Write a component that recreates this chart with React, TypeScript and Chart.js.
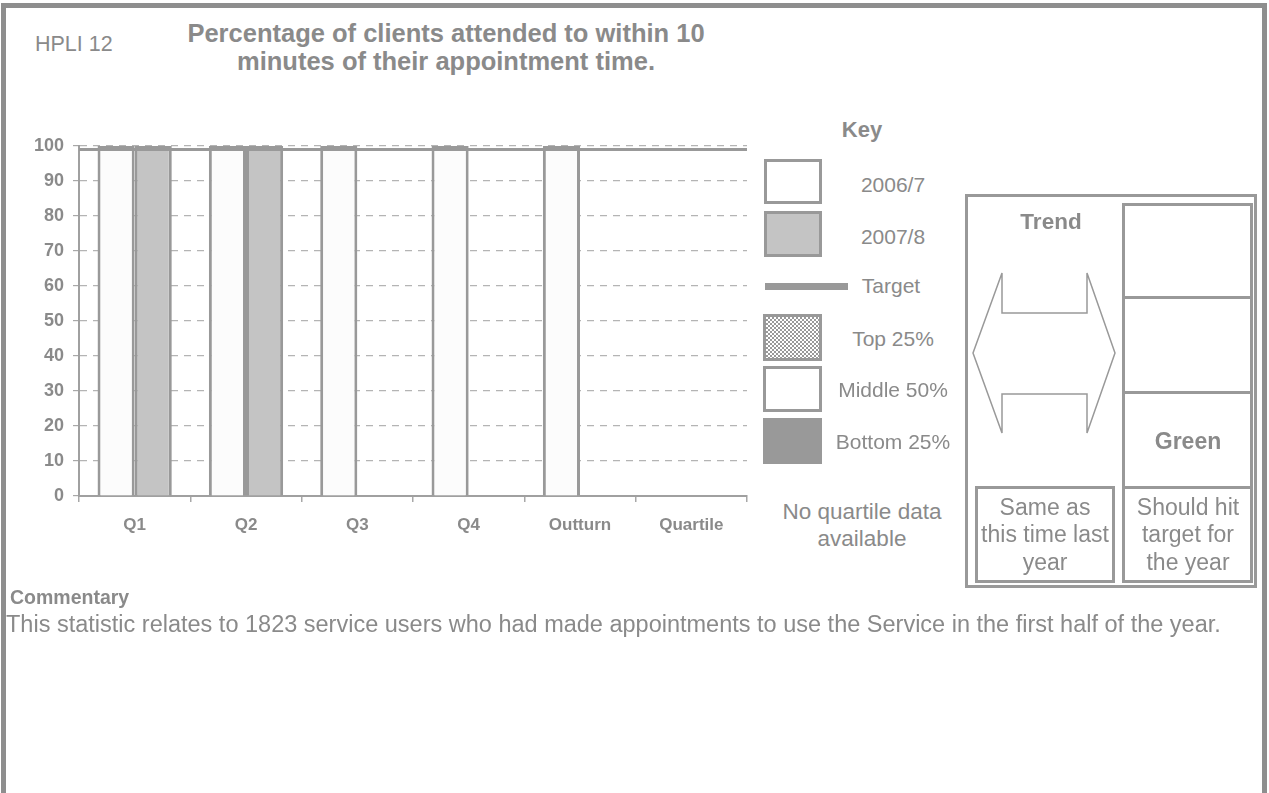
import React, { useEffect, useRef } from 'react';
import { Chart, registerables } from 'chart.js';

Chart.register(...registerables);

// ---- data ----
const categories = ['Q1', 'Q2', 'Q3', 'Q4', 'Outturn', 'Quartile'];
const values2006 = [100, 100, 100, 100, 100, null];
const values2007 = [100, 100, null, null, null, null];
const seriesNames = ['2006/7', '2007/8'];
const targetValue = 99;
const yMin = 0;
const yMax = 100;
const yStep = 10;

const titleLines = ['Percentage of clients attended to within 10', 'minutes of their appointment time.'];
const keyLabels = ['2006/7', '2007/8', 'Target', 'Top 25%', 'Middle 50%', 'Bottom 25%'];
const quartileNote = ['No quartile data', 'available'];
const trendNote = ['Same as', 'this time last', 'year'];
const targetNote = ['Should hit', 'target for', 'the year'];
const commentary = 'This statistic relates to 1823 service users who had made appointments to use the Service in the first half of the year.';

const FONT = "'Liberation Sans', Arial, sans-serif";
const TXT = '#8a8a8a';
const LINE = '#999999';

type TxtProps = { x: number; cy: number; size: number; bold?: boolean; align?: 'left' | 'center'; children: React.ReactNode };
function Txt({ x, cy, size, bold, align = 'left', children }: TxtProps) {
  return (
    <div
      style={{
        position: 'absolute',
        left: x,
        top: cy - size * 0.49,
        transform: align === 'center' ? 'translateX(-50%)' : undefined,
        fontSize: size,
        lineHeight: `${size}px`,
        fontWeight: bold ? 'bold' : 'normal',
        whiteSpace: 'nowrap',
        color: TXT,
        fontFamily: FONT,
      }}
    >
      {children}
    </div>
  );
}

function Box({ l, t, w, h, bg = 'transparent', border = 3, style = {} }: any) {
  return (
    <div
      style={{
        position: 'absolute',
        left: l,
        top: t,
        width: w,
        height: h,
        boxSizing: 'border-box',
        border: border ? `${border}px solid ${LINE}` : 'none',
        background: bg,
        ...style,
      }}
    />
  );
}

const targetPlugin = {
  id: 'targetLine',
  afterDatasetsDraw(chart: any) {
    const { ctx, chartArea, scales } = chart;
    const y = scales.y.getPixelForValue(targetValue);
    ctx.save();
    ctx.strokeStyle = LINE;
    ctx.lineWidth = 3;
    ctx.beginPath();
    ctx.moveTo(chartArea.left, y);
    ctx.lineTo(chartArea.right, y);
    ctx.stroke();
    ctx.restore();
  },
};

function BarChart() {
  const ref = useRef<HTMLCanvasElement>(null);
  useEffect(() => {
    if (!ref.current) return;
    const chart = new Chart(ref.current, {
      type: 'bar',
      data: {
        labels: categories,
        datasets: [
          {
            label: seriesNames[0],
            data: values2006,
            backgroundColor: '#fcfcfc',
            borderColor: LINE,
            borderWidth: 3,
            categoryPercentage: 0.667,
            barPercentage: 1,
          },
          {
            label: seriesNames[1],
            data: values2007,
            backgroundColor: '#c4c4c4',
            borderColor: LINE,
            borderWidth: 3,
            categoryPercentage: 0.667,
            barPercentage: 1,
          },
        ],
      },
      options: {
        animation: false,
        responsive: false,
        devicePixelRatio: 1,
        layout: { padding: { top: 26, right: 23, left: 0, bottom: 0 } },
        plugins: { legend: { display: false }, tooltip: { enabled: false } },
        scales: {
          x: {
            afterFit: (s: any) => {
              s.height = 64;
            },
            grid: {
              display: true,
              drawOnChartArea: false,
              drawTicks: true,
              tickLength: 6,
              offset: true,
              color: '#a8a8a8',
              lineWidth: 1.5,
            },
            border: { display: true, color: '#a0a0a0', width: 2 },
            ticks: {
              color: TXT,
              font: { family: FONT, size: 17, weight: 'bold' },
              padding: 13,
            },
          },
          y: {
            min: yMin,
            max: yMax,
            afterFit: (s: any) => {
              s.width = 79;
            },
            grid: {
              color: (c: any) => (c.tick && c.tick.value === 0 ? 'rgba(0,0,0,0)' : '#b4b4b4'),
              tickColor: '#a8a8a8',
              tickLength: 6,
              tickBorderDash: [],
              lineWidth: 1.2,
            },
            border: { display: true, color: '#a0a0a0', width: 2, dash: [7, 6] },
            ticks: {
              stepSize: yStep,
              color: TXT,
              font: { family: FONT, size: 18, weight: 'bold' },
              padding: 9,
            },
          },
        },
      },
      plugins: [targetPlugin],
    } as any);
    return () => chart.destroy();
  }, []);
  return (
    <canvas
      ref={ref}
      width={770}
      height={440}
      style={{ position: 'absolute', left: 0, top: 120, width: 770, height: 440 }}
    />
  );
}

export default function App() {
  const keyX = 893;
  return (
    <div
      style={{
        position: 'absolute',
        left: 0,
        top: 0,
        width: 1269,
        height: 793,
        overflow: 'hidden',
        background: '#ffffff',
        fontFamily: FONT,
      }}
    >
      {/* page frame */}
      <Box l={1} t={3} w={1266} h={900} border={5} style={{ borderColor: '#8e8e8e' }} />

      <Txt x={35} cy={45} size={21.5}>HPLI 12</Txt>
      <Txt x={446} cy={33} size={25.5} bold align="center">{titleLines[0]}</Txt>
      <Txt x={446} cy={61} size={25.5} bold align="center">{titleLines[1]}</Txt>

      <BarChart />

      {/* Key */}
      <Txt x={862} cy={130} size={22} bold align="center">Key</Txt>
      <Box l={764} t={159} w={58} h={45} bg="#ffffff" />
      <Box l={764} t={211} w={58} h={46} bg="#c4c4c4" />
      <Box l={765} t={283} w={83} h={7} bg={LINE} border={0} />
      <Box
        l={763}
        t={314}
        w={59}
        h={47}
        style={{ background: `repeating-conic-gradient(${LINE} 0% 25%, #ffffff 0% 50%) 0 0 / 4px 4px` }}
      />
      <Box l={763} t={366} w={59} h={46} bg="#ffffff" />
      <Box l={763} t={418} w={59} h={46} bg={LINE} border={0} />
      <Txt x={keyX} cy={184} size={21} align="center">{keyLabels[0]}</Txt>
      <Txt x={keyX} cy={236} size={21} align="center">{keyLabels[1]}</Txt>
      <Txt x={891} cy={285} size={21} align="center">{keyLabels[2]}</Txt>
      <Txt x={keyX} cy={338} size={21} align="center">{keyLabels[3]}</Txt>
      <Txt x={keyX} cy={389} size={21} align="center">{keyLabels[4]}</Txt>
      <Txt x={keyX} cy={441} size={21} align="center">{keyLabels[5]}</Txt>
      <Txt x={862} cy={512} size={22.5} align="center">{quartileNote[0]}</Txt>
      <Txt x={862} cy={539} size={22.5} align="center">{quartileNote[1]}</Txt>

      {/* Trend panel */}
      <Box l={965} t={194} w={292} h={394} />
      <Box l={1122} t={203} w={131} h={380} />
      <Box l={1122} t={296} w={131} h={3} bg={LINE} border={0} />
      <Box l={1122} t={391} w={131} h={3} bg={LINE} border={0} />
      <Box l={1122} t={486} w={131} h={3} bg={LINE} border={0} />
      <Box l={975} t={486} w={140} h={97} />
      <svg
        width={1269}
        height={793}
        style={{ position: 'absolute', left: 0, top: 0, pointerEvents: 'none' }}
      >
        <polygon
          points="973,353 1002,273 1002,313 1087,313 1087,273 1115,353 1087,433 1087,394 1002,394 1002,433"
          fill="#ffffff"
          stroke={LINE}
          strokeWidth={1.5}
        />
      </svg>
      <Txt x={1051} cy={222} size={22.5} bold align="center">Trend</Txt>
      <Txt x={1188} cy={441} size={23} bold align="center">Green</Txt>
      {trendNote.map((t, i) => (
        <Txt key={'t' + i} x={1045} cy={507 + i * 27.5} size={23} align="center">{t}</Txt>
      ))}
      {targetNote.map((t, i) => (
        <Txt key={'g' + i} x={1188} cy={507 + i * 27.5} size={23} align="center">{t}</Txt>
      ))}

      {/* Commentary */}
      <Txt x={10} cy={598} size={19.5} bold>Commentary</Txt>
      <Txt x={6} cy={625} size={23.5}>{commentary}</Txt>
    </div>
  );
}
